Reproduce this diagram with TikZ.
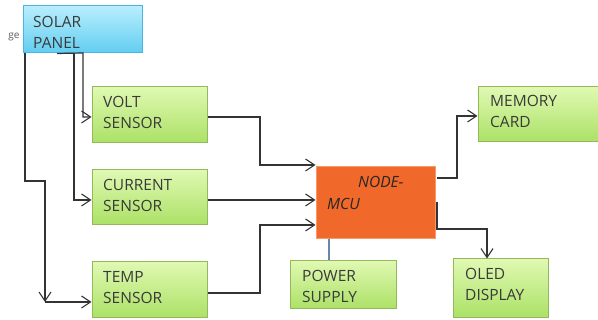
\documentclass[tikz,border=0pt]{standalone}
\usepackage{fontspec}
\setmainfont{Open Sans}
\usetikzlibrary{arrows.meta,calc}
\definecolor{skyT}{HTML}{B8EEFC}
\definecolor{skyB}{HTML}{62CDF2}
\definecolor{skyD}{HTML}{4AB4E4}
\definecolor{grT}{HTML}{E0F9B2}
\definecolor{grB}{HTML}{ABE166}
\definecolor{grD}{HTML}{94B85C}
\definecolor{orF}{HTML}{F0692B}
\definecolor{orD}{HTML}{F49A6E}
\definecolor{lnC}{HTML}{333333}
\definecolor{txC}{HTML}{3A3A3A}
\definecolor{pwC}{HTML}{6A86A6}
\tikzset{
  box/.style={rectangle, inner sep=0pt, line width=1pt},
  sbox/.style={box, draw=skyD, top color=skyT, bottom color=skyB},
  gbox/.style={box, draw=grD, top color=grT, bottom color=grB},
  mbox/.style={box, draw=orD, fill=orF},
  txt/.style={font=\fontsize{15.5}{21}\selectfont, text=txC, inner sep=0pt, anchor=base west, align=left},
  ln/.style={draw=lnC, line width=1.2pt},
  arr/.style={ln, -{Straight Barb[length=9pt,width=12pt,line width=1.1pt]}},
}
\begin{document}
\begin{tikzpicture}[x=1pt,y=-1pt]
\useasboundingbox (0,0) rectangle (598,320);
\fill[white] (0,0) rectangle (598,320);
% boxes
\node[sbox, minimum width=119pt, minimum height=47pt] (solar) at (82.5,29.5) {};
\node[gbox, minimum width=115pt, minimum height=56pt] (volt) at (149.5,115) {};
\node[gbox, minimum width=115pt, minimum height=55pt] (curr) at (149.5,197.5) {};
\node[gbox, minimum width=115pt, minimum height=56pt] (temp) at (149.5,290) {};
\node[mbox, minimum width=119pt, minimum height=72pt] (mcu) at (375.5,203) {};
\node[gbox, minimum width=106pt, minimum height=48pt] (power) at (343,285) {};
\node[gbox, minimum width=121pt, minimum height=55pt] (mem) at (538.5,114.5) {};
\node[gbox, minimum width=95pt, minimum height=59pt] (oled) at (500.5,288.5) {};
% texts (anchor = baseline of last line)
\node[txt] (solar-t) at (33,49) {SOLAR\\PANEL};
\node[txt] (volt-t) at (103,129) {VOLT\\SENSOR};
\node[txt] (curr-t) at (103,212) {CURRENT\\SENSOR};
\node[txt] (temp-t) at (103,304) {TEMP\\SENSOR};
\node[txt, text=black!85] (mcu-t1) at (358,188) {\itshape NODE-};
\node[txt, text=black!85] (mcu-t2) at (327,210) {\itshape MCU};
\node[txt] (power-t) at (302,303) {POWER\\SUPPLY};
\node[txt] (mem-t) at (490,128) {MEMORY\\CARD};
\node[txt] (oled-t) at (465,301) {OLED\\DISPLAY};
\node[font=\fontsize{10}{11}\selectfont, text=black!65, inner sep=0pt] (ge) at (14,37) {ge};
% connectors
\coordinate (tbend) at (45,302);
\draw[arr] (solar.south -| 57,0) -- (83,53) -- (83,117) -- (volt.west |- 0,117);
\draw[arr] (solar.south -| 74,0) -- (74,200) -- (curr.west |- 0,200);
\draw[arr] (solar.south -| 25,0) -- (25,181) -- (45,181) -- (tbend);
\draw[arr] (tbend) -- (temp.west |- tbend);
\draw[arr] (volt.east |- 0,117) -| (260,165) -- (mcu.west |- 0,165);
\draw[arr] (curr.east |- 0,200) -- (mcu.west |- 0,200);
\draw[arr] (temp.east |- 0,293) -| (260,225) -- (mcu.west |- 0,225);
\draw[arr] (437,178) -| (457,116) -- (mem.west |- 0,116);
\draw[arr] (437,202) |- (487,229) -- (oled.north -| 487,0);
\draw[draw=pwC, line width=1.2pt] (mcu.south -| 329,0) -- (power.north -| 329,0);
\end{tikzpicture}
\end{document}
